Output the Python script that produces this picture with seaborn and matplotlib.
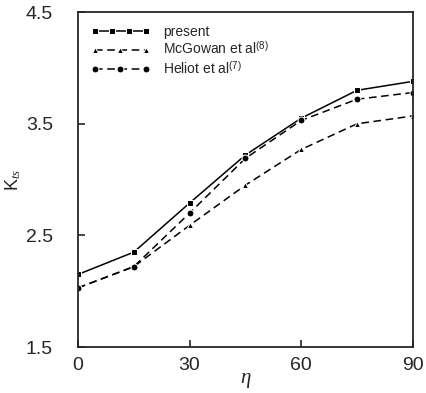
import matplotlib
matplotlib.use("Agg")
import matplotlib.pyplot as plt
from matplotlib.legend_handler import HandlerLine2D
import pandas as pd
import seaborn as sns

eta = [0, 15, 30, 45, 60, 75, 90]
present = [2.15, 2.35, 2.79, 3.22, 3.55, 3.80, 3.88]
mcgowan = [2.03, 2.22, 2.59, 2.95, 3.27, 3.50, 3.57]
heliot = [2.03, 2.22, 2.70, 3.19, 3.53, 3.72, 3.78]

labels = ["present", "McGowan et al$^{(8)}$", "Heliot et al$^{(7)}$"]

df = pd.DataFrame({
    "eta": eta * 3,
    "K": present + mcgowan + heliot,
    "series": [labels[0]] * 7 + [labels[1]] * 7 + [labels[2]] * 7,
})

sns.set_style("ticks")
plt.rcParams["font.family"] = ["Liberation Sans", "DejaVu Sans"]
plt.rcParams["mathtext.fontset"] = "custom"
plt.rcParams["mathtext.rm"] = "Liberation Sans"
plt.rcParams["mathtext.it"] = "Liberation Serif:italic"

fig = plt.figure(figsize=(4.26, 3.93), dpi=100)
ax = fig.add_axes([0.183, 0.117, 0.786, 0.852])

sns.lineplot(
    data=df, x="eta", y="K", hue="series", style="series",
    palette=["black", "black", "black"],
    dashes={labels[0]: "", labels[1]: (5, 3), labels[2]: (5, 3)},
    markers={labels[0]: "s", labels[1]: "^", labels[2]: "o"},
    markersize=5, linewidth=1.1, ax=ax,
)

ax.set_xlim(0, 90)
ax.set_ylim(1.5, 4.5)
ax.set_xticks([0, 30, 60, 90])
ax.set_yticks([1.5, 2.5, 3.5, 4.5])
ax.set_yticklabels(["1.5", "2.5", "3.5", "4.5"])
ax.tick_params(direction="in", length=5, labelsize=14, width=1.2)
ax.tick_params(axis="y", pad=18)
ax.tick_params(axis="x", pad=7)
for s in ax.spines.values():
    s.set_linewidth(1.3)
    s.set_visible(True)

ax.set_xlabel(r"$\mathit{\eta}$", fontsize=15, labelpad=-2)
ax.set_ylabel("K$_{ts}$", fontsize=13)
ax.yaxis.set_label_coords(-0.165, 0.5)

handles, _ = ax.get_legend_handles_labels()
leg = ax.legend(handles, labels, loc="upper left", frameon=False, fontsize=10,
                handlelength=4.3, handletextpad=0.9, labelspacing=0.15,
                borderaxespad=0.5,
                handler_map={handles[0]: HandlerLine2D(numpoints=4),
                             handles[1]: HandlerLine2D(numpoints=3),
                             handles[2]: HandlerLine2D(numpoints=3)})

fig.savefig("out.png", dpi=100)
plt.close(fig)
